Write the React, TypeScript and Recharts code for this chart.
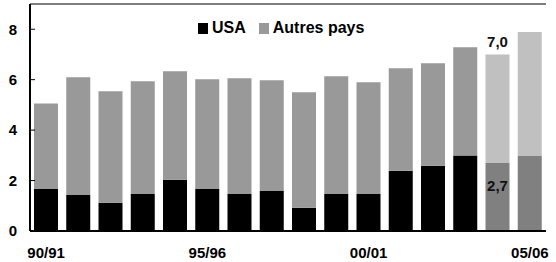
import { Bar, BarChart, Cell, LabelList, Legend, XAxis, YAxis } from "recharts";

const seasons = [
  "90/91", "91/92", "92/93", "93/94", "94/95", "95/96", "96/97", "97/98",
  "98/99", "99/00", "00/01", "01/02", "02/03", "03/04", "04/05", "05/06",
];
const usa = [1.67, 1.43, 1.12, 1.47, 2.03, 1.67, 1.47, 1.59, 0.92, 1.47, 1.47, 2.39, 2.59, 2.99, 2.7, 2.99];
const autres = [3.39, 4.67, 4.42, 4.47, 4.3, 4.35, 4.59, 4.39, 4.58, 4.67, 4.43, 4.06, 4.06, 4.3, 4.3, 4.9];
const forecastSeasons = ["04/05", "05/06"];
const annotatedSeasons = ["04/05"];
const xLabels = ["90/91", "95/96", "00/01", "05/06"];
const yTicks = [0, 2, 4, 6, 8];
const boundaryTicks = [1, 2, 3, 4, 5, 6, 7, 8, 9, 10, 11, 12, 13, 14, 15];

const data = seasons.map((s, i) => ({
  season: s,
  usa: usa[i],
  autres: autres[i],
  total: usa[i] + autres[i],
}));

const FONT = "'Liberation Sans', Arial, sans-serif";
const fmt = (v: number) => v.toFixed(1).replace(".", ",");

const legendItems = [
  { name: "USA", color: "#000000" },
  { name: "Autres pays", color: "#999999" },
];

function LegendBox() {
  return (
    <div style={{ display: "flex", alignItems: "center", fontFamily: FONT, fontWeight: 700, fontSize: 16 }}>
      {legendItems.map((it) => (
        <span key={it.name} style={{ display: "flex", alignItems: "center", marginRight: 13 }}>
          <span style={{ width: 10, height: 11, background: it.color, display: "inline-block", marginRight: 4 }} />
          {it.name}
        </span>
      ))}
    </div>
  );
}

function TotalLabel(props: any) {
  const { x, y, width, value, index } = props;
  if (!annotatedSeasons.includes(seasons[index])) return null;
  return (
    <text x={x + width / 2} y={y - 7} textAnchor="middle" fontFamily={FONT} fontWeight={700} fontSize={15} fill="#111">
      {fmt(value)}
    </text>
  );
}

function UsaLabel(props: any) {
  const { x, y, width, value, index } = props;
  if (!annotatedSeasons.includes(seasons[index])) return null;
  return (
    <text x={x + width / 2} y={y + 28} textAnchor="middle" fontFamily={FONT} fontWeight={700} fontSize={15} fill="#111">
      {fmt(value)}
    </text>
  );
}

export default function App() {
  const tickStyle = { fill: "#000", fontSize: 15, fontWeight: 700, fontFamily: FONT };
  return (
    <div style={{ position: "absolute", left: 0, top: 0 }}>
      <BarChart width={556} height={262} data={data} margin={{ top: 3, right: 10, bottom: 0, left: 0 }}>
        <XAxis
          dataKey="season"
          height={31}
          interval={0}
          tickLine={false}
          tickSize={0}
          tickMargin={16}
          tick={tickStyle}
          tickFormatter={(v: string) => (xLabels.includes(v) ? v : "")}
          axisLine={{ stroke: "#000", strokeWidth: 2 }}
        />
        <XAxis
          xAxisId="grid"
          type="number"
          domain={[0, 16]}
          ticks={boundaryTicks}
          mirror
          height={0}
          tick={false}
          tickSize={4}
          tickLine={{ stroke: "#000" }}
          axisLine={false}
        />
        <XAxis
          xAxisId="top"
          orientation="top"
          dataKey="season"
          height={1}
          tick={false}
          tickLine={false}
          axisLine={{ stroke: "#555", strokeWidth: 1.5 }}
        />
        <YAxis
          width={30}
          domain={[0, 9]}
          ticks={yTicks}
          tickSize={-5}
          tickMargin={18}
          tick={tickStyle}
          tickLine={{ stroke: "#000" }}
          axisLine={{ stroke: "#000", strokeWidth: 2 }}
        />
        <YAxis
          yAxisId="right"
          orientation="right"
          width={0}
          domain={[0, 9]}
          tick={false}
          tickLine={false}
          axisLine={{ stroke: "#222", strokeWidth: 1.5 }}
        />
        <Legend
          layout="horizontal"
          verticalAlign="middle"
          align="center"
          wrapperStyle={{ position: "absolute", top: 19, left: 198, width: "auto" }}
          content={() => <LegendBox />}
        />
        <Bar dataKey="usa" name="USA" stackId="a" fill="#000000" barSize={24} isAnimationActive={false}>
          {data.map((d) => (
            <Cell key={d.season} fill={forecastSeasons.includes(d.season) ? "#808080" : "#000000"} />
          ))}
          <LabelList dataKey="usa" content={UsaLabel} />
        </Bar>
        <Bar dataKey="autres" name="Autres pays" stackId="a" fill="#999999" barSize={24} isAnimationActive={false}>
          {data.map((d) => (
            <Cell key={d.season} fill={forecastSeasons.includes(d.season) ? "#c0c0c0" : "#999999"} />
          ))}
          <LabelList dataKey="total" content={TotalLabel} />
        </Bar>
      </BarChart>
    </div>
  );
}
